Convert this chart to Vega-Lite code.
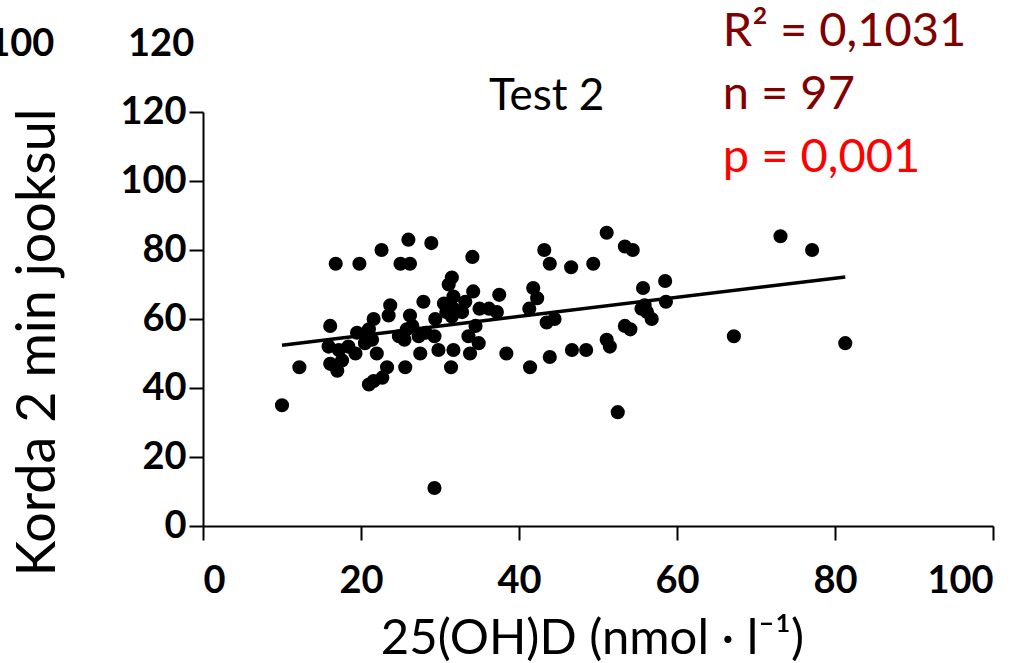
{
  "$schema": "https://vega.github.io/schema/vega-lite/v6.json",
  "autosize": {"type": "none"},
  "padding": {"left": 203, "top": 112, "right": 41, "bottom": 137},
  "width": 790,
  "height": 414,
  "background": "white",
  "config": {
    "view": {"stroke": null},
    "font": "Lato",
    "axis": {
      "grid": false,
      "domainColor": "black",
      "domainWidth": 2,
      "tickColor": "black",
      "tickWidth": 2,
      "tickSize": 14,
      "labelFont": "Lato",
      "labelFontWeight": "bold",
      "labelFontSize": 38,
      "labelColor": "black",
      "titleFont": "Lato",
      "titleFontWeight": "normal",
      "titleColor": "black"
    }
  },
  "datasets": {
    "pts": [
      {"vitd": 10.0, "run": 35}, {"vitd": 12.2, "run": 46}, {"vitd": 16.8, "run": 76}, {"vitd": 19.8, "run": 76},
      {"vitd": 22.6, "run": 80}, {"vitd": 26.0, "run": 83}, {"vitd": 28.9, "run": 82}, {"vitd": 25.0, "run": 76},
      {"vitd": 26.2, "run": 76}, {"vitd": 16.1, "run": 58}, {"vitd": 15.9, "run": 52}, {"vitd": 17.2, "run": 51},
      {"vitd": 16.1, "run": 47}, {"vitd": 17.0, "run": 45}, {"vitd": 17.6, "run": 48}, {"vitd": 18.4, "run": 52},
      {"vitd": 19.3, "run": 50}, {"vitd": 19.5, "run": 56}, {"vitd": 21.0, "run": 57}, {"vitd": 21.6, "run": 60},
      {"vitd": 23.5, "run": 61}, {"vitd": 23.7, "run": 64}, {"vitd": 21.4, "run": 54}, {"vitd": 22.0, "run": 50},
      {"vitd": 21.0, "run": 41}, {"vitd": 21.6, "run": 42}, {"vitd": 22.7, "run": 43}, {"vitd": 23.3, "run": 46},
      {"vitd": 25.6, "run": 46}, {"vitd": 25.5, "run": 54}, {"vitd": 25.8, "run": 57}, {"vitd": 26.2, "run": 61},
      {"vitd": 27.3, "run": 55}, {"vitd": 27.5, "run": 50}, {"vitd": 27.9, "run": 65}, {"vitd": 29.4, "run": 60},
      {"vitd": 29.3, "run": 55}, {"vitd": 29.8, "run": 51}, {"vitd": 30.5, "run": 64.5}, {"vitd": 31.1, "run": 70},
      {"vitd": 31.5, "run": 72}, {"vitd": 31.7, "run": 66.5}, {"vitd": 31.5, "run": 60.7}, {"vitd": 31.7, "run": 51},
      {"vitd": 31.4, "run": 46}, {"vitd": 51.1, "run": 85}, {"vitd": 53.4, "run": 81}, {"vitd": 54.4, "run": 80},
      {"vitd": 43.2, "run": 80}, {"vitd": 43.9, "run": 76}, {"vitd": 46.6, "run": 75}, {"vitd": 49.4, "run": 76},
      {"vitd": 34.1, "run": 78}, {"vitd": 34.2, "run": 68}, {"vitd": 37.5, "run": 67}, {"vitd": 36.2, "run": 63},
      {"vitd": 37.2, "run": 62}, {"vitd": 32.8, "run": 62}, {"vitd": 41.8, "run": 69}, {"vitd": 42.3, "run": 66},
      {"vitd": 41.3, "run": 63}, {"vitd": 34.5, "run": 58}, {"vitd": 33.6, "run": 55}, {"vitd": 34.9, "run": 53},
      {"vitd": 33.8, "run": 50}, {"vitd": 38.4, "run": 50}, {"vitd": 41.4, "run": 46}, {"vitd": 43.9, "run": 49},
      {"vitd": 43.5, "run": 59}, {"vitd": 44.5, "run": 60}, {"vitd": 46.7, "run": 51}, {"vitd": 48.5, "run": 51},
      {"vitd": 51.1, "run": 54}, {"vitd": 51.5, "run": 52}, {"vitd": 53.4, "run": 58}, {"vitd": 54.1, "run": 57},
      {"vitd": 55.7, "run": 69}, {"vitd": 58.5, "run": 71}, {"vitd": 58.6, "run": 65}, {"vitd": 55.9, "run": 64},
      {"vitd": 56.2, "run": 62}, {"vitd": 56.8, "run": 60}, {"vitd": 52.5, "run": 33}, {"vitd": 73.1, "run": 84},
      {"vitd": 77.1, "run": 80}, {"vitd": 67.2, "run": 55}, {"vitd": 81.3, "run": 53}, {"vitd": 29.3, "run": 11},
      {"vitd": 31.7, "run": 63}, {"vitd": 26.5, "run": 58}, {"vitd": 30.8, "run": 62}, {"vitd": 33.2, "run": 65},
      {"vitd": 35.0, "run": 63}, {"vitd": 28.2, "run": 56}, {"vitd": 20.5, "run": 53}, {"vitd": 24.8, "run": 55},
      {"vitd": 55.5, "run": 63}
    ],
    "trend": [
      {"vitd": 10.0, "run": 52.4},
      {"vitd": 81.3, "run": 72.2}
    ],
    "stats": [
      {"label": "R² = 0,1031", "vitd": 65.8, "run": 143.2, "kind": "r2"},
      {"label": "n = 97", "vitd": 65.8, "run": 124.9, "kind": "n"},
      {"label": "p = 0,001", "vitd": 65.8, "run": 106.7, "kind": "p"}
    ],
    "heading": [
      {"label": "Test 2", "vitd": 43.5, "run": 124.3}
    ],
    "remnant": [
      {"label": "100", "vitd": -23.0, "run": 139.4},
      {"label": "120", "vitd": -5.3, "run": 139.4}
    ]
  },
  "layer": [
    {
      "data": {"name": "pts"},
      "mark": {"type": "circle", "size": 200, "color": "black", "opacity": 1},
      "encoding": {
        "x": {
          "field": "vitd", "type": "quantitative",
          "scale": {"domain": [0, 100], "nice": false, "zero": false},
          "axis": {
            "values": [0, 20, 40, 60, 80, 100],
            "title": "25(OH)D (nmol · l⁻¹)",
            "titleFontSize": 49,
            "labelPadding": 22,
            "titleX": 389, "titleY": 112,
            "titleAlign": "center", "titleBaseline": "middle"
          }
        },
        "y": {
          "field": "run", "type": "quantitative",
          "scale": {"domain": [0, 120], "nice": false, "zero": false},
          "axis": {
            "values": [0, 20, 40, 60, 80, 100, 120],
            "title": "Korda 2 min jooksul",
            "titleFontSize": 54,
            "labelPadding": 3,
            "titleX": -165, "titleY": 230,
            "titleAlign": "center", "titleBaseline": "middle", "titleAngle": -90
          }
        }
      }
    },
    {
      "data": {"name": "trend"},
      "mark": {"type": "line", "color": "black", "strokeWidth": 3.5},
      "encoding": {
        "x": {"field": "vitd", "type": "quantitative"},
        "y": {"field": "run", "type": "quantitative"}
      }
    },
    {
      "data": {"name": "stats"},
      "mark": {"type": "text", "align": "left", "baseline": "middle", "fontSize": 47, "font": "Lato"},
      "encoding": {
        "x": {"field": "vitd", "type": "quantitative"},
        "y": {"field": "run", "type": "quantitative"},
        "text": {"field": "label"},
        "color": {
          "field": "kind", "type": "nominal",
          "scale": {"domain": ["r2", "n", "p"], "range": ["#800000", "#800000", "#FF0000"]},
          "legend": null
        }
      }
    },
    {
      "data": {"name": "heading"},
      "mark": {"type": "text", "align": "center", "baseline": "middle", "fontSize": 44, "font": "Lato", "color": "black"},
      "encoding": {
        "x": {"field": "vitd", "type": "quantitative"},
        "y": {"field": "run", "type": "quantitative"},
        "text": {"field": "label"}
      }
    },
    {
      "data": {"name": "remnant"},
      "mark": {"type": "text", "align": "center", "baseline": "middle", "fontSize": 38, "fontWeight": "bold", "font": "Lato", "color": "black"},
      "encoding": {
        "x": {"field": "vitd", "type": "quantitative"},
        "y": {"field": "run", "type": "quantitative"},
        "text": {"field": "label"}
      }
    }
  ]
}
